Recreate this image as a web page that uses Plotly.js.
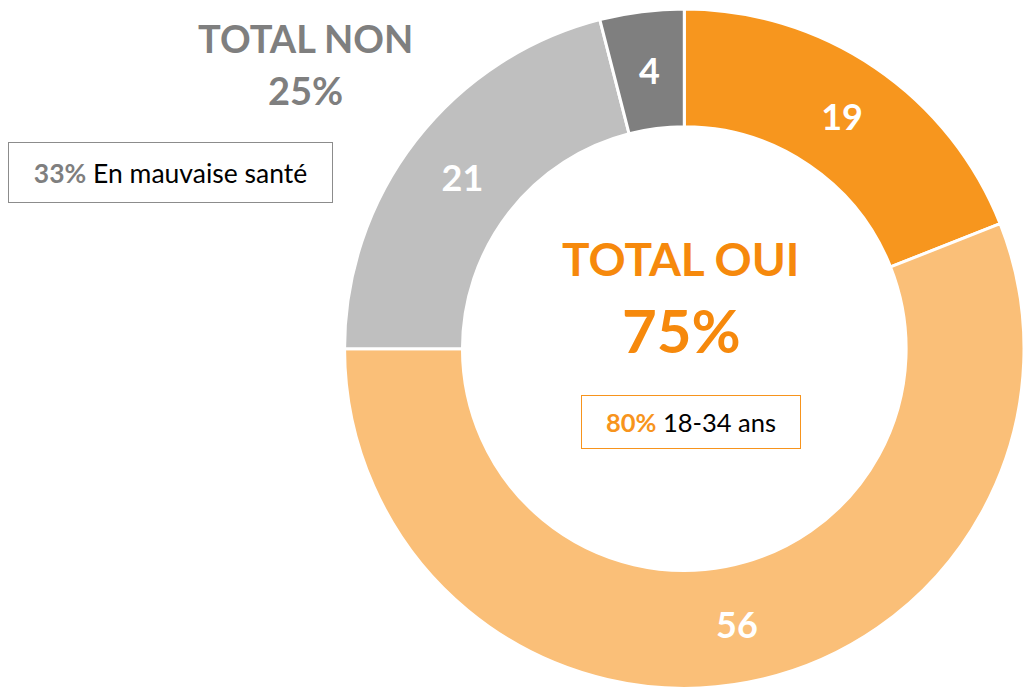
<!DOCTYPE html>
<html>
<head>
<meta charset="utf-8">
<script src="https://cdn.plot.ly/plotly-3.0.1.min.js"></script>
<style>html,body{margin:0;padding:0;background:#fff;}#chart{width:1024px;height:689px;}</style>
</head>
<body>
<div id="chart"></div>
<script>
const categories = ["Oui A", "Oui B", "Non A", "Non B"];
const values = [19, 56, 21, 4];
const sliceColors = ["#F7961E", "#FABF78", "#BFBFBF", "#7F7F7F"];
const totalNonLabel = "TOTAL NON";
const totalNonValue = "25%";
const totalOuiLabel = "TOTAL OUI";
const totalOuiValue = "75%";
const noteNonValue = "33%";
const noteNonText = "En mauvaise santé";
const noteOuiValue = "80%";
const noteOuiText = "18-34 ans";

const W = 1024, H = 689;
const px = x => x / W;
const py = y => 1 - y / H;
const FONT = "Lato, 'Open Sans', sans-serif";
const HOLE = 0.653;
const DOM = {x: [0.3365, 1], y: [0, 0.988]};

// Narrow slices: place their value label at mid-ring, computed from the data
const total = values.reduce((a, b) => a + b, 0);
const narrow = values.map(v => v / total < 0.08);
const domW = (DOM.x[1] - DOM.x[0]) * W, domH = (DOM.y[1] - DOM.y[0]) * H;
const R = Math.min(domW, domH) / 2;
const cx = DOM.x[0] * W + domW / 2;
const cy = H - (DOM.y[0] * H + domH / 2);
const rMid = R * (1 + HOLE) / 2;
const labelAnns = [];
let cum = 0;
values.forEach((v, i) => {
  const mid = (cum + v / 2) / total * 2 * Math.PI;
  cum += v;
  if (narrow[i]) {
    const x = cx + rMid * Math.sin(mid);
    const y = cy - rMid * Math.cos(mid);
    labelAnns.push({xref: "paper", yref: "paper", x: px(x), y: py(y), text: String(v), showarrow: false,
      xanchor: "center", yanchor: "middle",
      font: {family: FONT, size: 36, color: "#ffffff", weight: "bold"}});
  }
});

const data = [{
  type: "pie",
  labels: categories,
  values: values,
  hole: HOLE,
  sort: false,
  direction: "clockwise",
  rotation: 0,
  marker: {colors: sliceColors, line: {color: "#ffffff", width: 3}},
  text: values.map(String),
  textinfo: "text",
  textposition: narrow.map(n => n ? "none" : "inside"),
  insidetextorientation: "horizontal",
  textfont: {family: FONT, size: 36, color: "#ffffff", weight: "bold"},
  domain: DOM,
  showlegend: false,
  hoverinfo: "label+value"
}];

const layout = {
  width: W, height: H,
  margin: {l: 0, r: 0, t: 0, b: 0},
  paper_bgcolor: "#ffffff",
  showlegend: false,
  annotations: labelAnns.concat([
    {xref: "paper", yref: "paper", x: px(305), y: py(38), text: "<b>" + totalNonLabel + "</b>", showarrow: false,
     font: {family: FONT, size: 38, color: "#7F7F7F"}, xanchor: "center", yanchor: "middle"},
    {xref: "paper", yref: "paper", x: px(305), y: py(90), text: "<b>" + totalNonValue + "</b>", showarrow: false,
     font: {family: FONT, size: 38, color: "#7F7F7F"}, xanchor: "center", yanchor: "middle"},
    {xref: "paper", yref: "paper", x: px(170.5), y: py(172.5),
     text: "<b><span style='color:#7F7F7F'>" + noteNonValue + "</span></b> " + noteNonText, showarrow: false,
     font: {family: FONT, size: 26.5, color: "#000000"}, xanchor: "center", yanchor: "middle",
     width: 323, height: 59, bordercolor: "#8C8C8C", borderwidth: 1, borderpad: 0, align: "center"},
    {xref: "paper", yref: "paper", x: px(681), y: py(259), text: "<b>" + totalOuiLabel + "</b>", showarrow: false,
     font: {family: FONT, size: 46, color: "#F6890C"}, xanchor: "center", yanchor: "middle"},
    {xref: "paper", yref: "paper", x: px(681), y: py(330), text: "<b>" + totalOuiValue + "</b>", showarrow: false,
     font: {family: FONT, size: 60, color: "#F6890C"}, xanchor: "center", yanchor: "middle"},
    {xref: "paper", yref: "paper", x: px(691), y: py(422),
     text: "<b><span style='color:#F7941D'>" + noteOuiValue + "</span></b> " + noteOuiText, showarrow: false,
     font: {family: FONT, size: 25.5, color: "#000000"}, xanchor: "center", yanchor: "middle",
     width: 218, height: 52, bordercolor: "#F7941D", borderwidth: 1, borderpad: 0, align: "center"}
  ])
};

Plotly.newPlot("chart", data, layout, {displayModeBar: false, staticPlot: true});
</script>
</body>
</html>
